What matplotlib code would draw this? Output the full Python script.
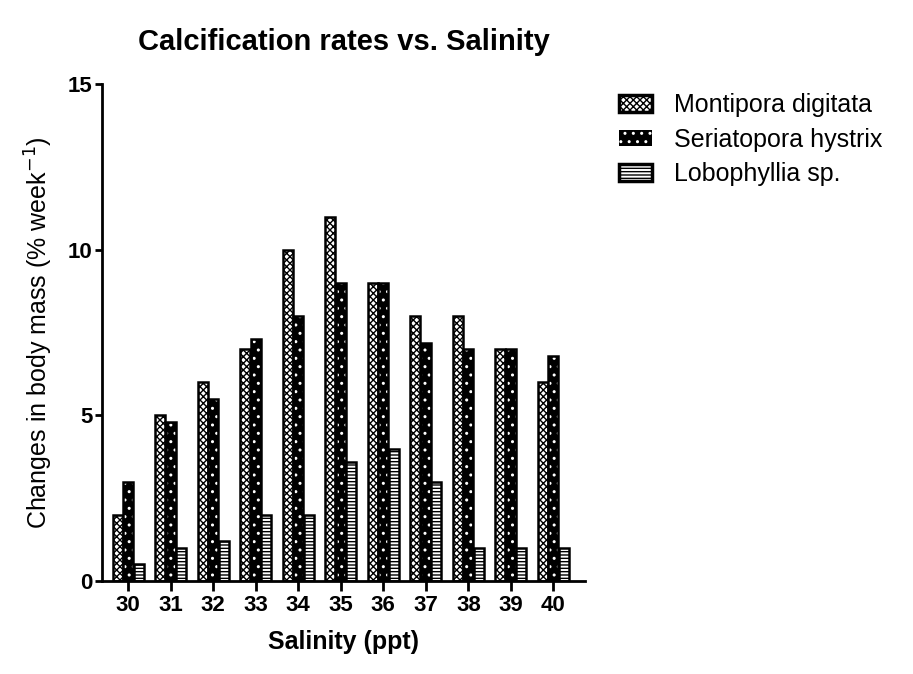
import numpy as np
import matplotlib.pyplot as plt
from matplotlib.patches import Patch

plt.rcParams['font.family'] = ['Liberation Sans', 'DejaVu Sans']
plt.rcParams['hatch.linewidth'] = 1.0

salinity = [30, 31, 32, 33, 34, 35, 36, 37, 38, 39, 40]
montipora = [2, 5, 6, 7, 10, 11, 9, 8, 8, 7, 6]
seriatopora = [3, 4.8, 5.5, 7.3, 8, 9, 9, 7.2, 7, 7, 6.8]
lobophyllia = [0.5, 1, 1.2, 2, 2, 3.6, 4, 3, 1, 1, 1]
names = ["Montipora digitata", "Seriatopora hystrix", "Lobophyllia sp."]

fig = plt.figure(figsize=(9.13, 6.74), dpi=100)
ax = fig.add_axes([0.112, 0.138, 0.529, 0.737])

x = np.array(salinity)
w = 0.235
lw = 1.8

# montipora: light dotted fill
ax.bar(x - w * 1.05, montipora, w, facecolor='white', edgecolor='black',
       hatch='xxxxx', linewidth=0)
ax.bar(x - w * 1.05, montipora, w, fill=False, edgecolor='black', linewidth=lw)

# seriatopora: black with white squares
ax.bar(x, seriatopora, w, facecolor='black', edgecolor='white', hatch='..', linewidth=0)
ax.bar(x, seriatopora, w, fill=False, edgecolor='black', linewidth=lw)

# lobophyllia: horizontal lines
ax.bar(x + w * 1.05, lobophyllia, w, facecolor='white', edgecolor='black',
       hatch='-----', linewidth=0)
ax.bar(x + w * 1.05, lobophyllia, w, fill=False, edgecolor='black', linewidth=lw)

ax.set_xlim(29.39, 40.75)
ax.set_ylim(0, 15)
ax.set_xticks(salinity)
ax.set_yticks([0, 5, 10, 15])
ax.spines['top'].set_visible(False)
ax.spines['right'].set_visible(False)
ax.spines['left'].set_linewidth(2)
ax.spines['bottom'].set_linewidth(2)
ax.tick_params(width=2, labelsize=16)
ax.tick_params(axis='x', length=7, pad=3)
ax.tick_params(axis='y', length=5, pad=2)
for lab in ax.get_xticklabels() + ax.get_yticklabels():
    lab.set_fontweight('bold')

ax.set_title("Calcification rates vs. Salinity", fontsize=21, fontweight='bold', pad=25)
ax.set_xlabel("Salinity (ppt)", fontsize=18, fontweight='bold', labelpad=10)
ax.set_ylabel("Changes in body mass (% week$^{-1}$)", fontsize=18, labelpad=9)

handles = [
    Patch(facecolor='white', edgecolor='black', hatch='xxxxx', linewidth=2.5),
    Patch(facecolor='black', edgecolor='white', hatch='..', linewidth=0),
    Patch(facecolor='white', edgecolor='black', hatch='-----', linewidth=2.5),
]
leg = fig.legend(handles, names, loc='upper left', bbox_to_anchor=(0.653, 0.895),
                 frameon=False, fontsize=18, handlelength=1.35, handleheight=0.65,
                 labelspacing=0.42, handletextpad=0.85)

fig.savefig("out.png", dpi=100)
